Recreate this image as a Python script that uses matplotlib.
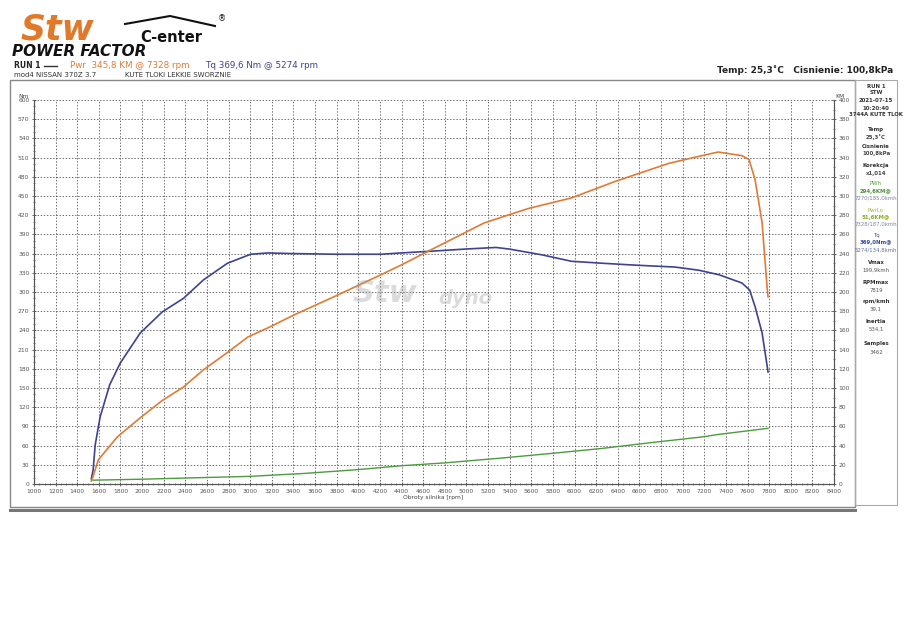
import matplotlib
matplotlib.use("Agg")
import matplotlib.pyplot as plt
from matplotlib.ticker import MultipleLocator
from matplotlib.patches import Rectangle
import numpy as np

# torque [Nm] (left axis)
rpm_tq = [1530, 1547, 1566, 1612, 1700, 1798, 1900, 1983, 2187, 2382, 2568, 2790, 3004, 3161,
          3400, 3800, 4210, 4395, 4700, 4980, 5274, 5400, 5700, 5972, 6250, 6557, 6928, 7150,
          7336, 7549, 7620, 7670, 7735, 7790]
tq = [8, 22, 61, 105, 155, 189, 215, 236, 269, 290, 319, 345, 359, 361,
      360, 359, 359, 361, 364, 367, 369.6, 367, 358, 348, 345, 342, 339, 334,
      327, 314, 303, 277, 236, 175]

# power [KM] (right axis)
rpm_pwr = [1530, 1547, 1594, 1770, 1983, 2187, 2382, 2568, 2790, 2976, 3189, 3403, 3774, 4210,
           4395, 4673, 5165, 5573, 5972, 6371, 6872, 7100, 7328, 7549, 7614, 7670, 7735, 7781, 7790]
pwr = [3, 8, 25, 49, 69, 87, 101, 119, 137, 153, 164, 176, 195, 218,
       228, 244, 272, 287, 298, 315, 334, 340, 345.8, 342, 338, 317, 272, 205, 195]

# power loss [KM] (right axis)
rpm_loss = [1547, 2000, 2500, 3004, 3500, 4000, 4395, 4800, 5322, 5800, 6250, 6700, 7178, 7328, 7790]
loss = [4, 5, 6.5, 8, 11, 15, 19, 22, 27, 32, 37, 43, 49, 51.6, 58]

panel_lines = [
    ("RUN 1", "#333333", "bold"), ("STW", "#333333", "bold"), ("2021-07-15", "#333333", "bold"),
    ("10:20:40", "#333333", "bold"), ("3744A KUTE TLOK", "#333333", "bold"),
    ("Temp", "#333333", "bold"), ("25,3˚C", "#444444", "bold"),
    ("Cisnienie", "#333333", "bold"), ("100,8kPa", "#444444", "bold"),
    ("Korekcja", "#333333", "bold"), ("x1,014", "#444444", "bold"),
    ("PWh", "#5a9a4a", "normal"), ("294,6KM@", "#4f9040", "bold"), ("7270/185,0kmh", "#7a86a8", "normal"),
    ("PwrLo", "#9ab832", "normal"), ("51,6KM@", "#8aab20", "bold"), ("7328/187,0kmh", "#7a86a8", "normal"),
    ("Tq", "#555577", "normal"), ("369,0Nm@", "#3a4aa0", "bold"), ("5274/134,8kmh", "#6070a8", "normal"),
    ("Vmax", "#333333", "bold"), ("199,9kmh", "#555555", "normal"),
    ("RPMmax", "#333333", "bold"), ("7819", "#555555", "normal"),
    ("rpm/kmh", "#333333", "bold"), ("39,1", "#555555", "normal"),
    ("Inertia", "#333333", "bold"), ("534,1", "#555555", "normal"),
    ("Samples", "#333333", "bold"), ("3462", "#555555", "normal"),
]
panel_y = [87, 93, 100, 108, 115, 129, 137, 147, 154, 166, 173, 184, 192, 198,
           211, 218, 224, 236, 243, 250, 263, 270, 283, 290, 302, 309, 322, 329, 344, 352]

W, H = 909, 639
fig = plt.figure(figsize=(W / 100, H / 100), dpi=100)
fig.patch.set_facecolor("white")


def fx(x):
    return x / W


def fy(y):
    return 1 - y / H


# frame around chart and info panel
fig.patches.append(Rectangle((fx(10), fy(507)), fx(845), 427 / H, transform=fig.transFigure,
                             fill=False, ec="#888888", lw=1.0))
fig.patches.append(Rectangle((fx(855), fy(505)), fx(42), 425 / H, transform=fig.transFigure,
                             fill=False, ec="#aaaaaa", lw=0.8))
fig.lines.append(plt.Line2D([fx(10), fx(855)], [fy(510), fy(510)], transform=fig.transFigure,
                            color="#777777", lw=2.2))

ax = fig.add_axes([fx(34), fy(484), (834 - 34) / W, (484 - 100) / H])
ax2 = ax.twinx()

ax.set_xlim(1000, 8400)
ax.set_ylim(0, 600)
ax2.set_ylim(0, 400)

ax.xaxis.set_major_locator(MultipleLocator(200))
ax.xaxis.set_minor_locator(MultipleLocator(50))
ax.yaxis.set_major_locator(MultipleLocator(30))
ax.yaxis.set_minor_locator(MultipleLocator(10))
ax2.yaxis.set_major_locator(MultipleLocator(20))
ax2.yaxis.set_minor_locator(MultipleLocator(10))

ax.grid(True, which="major", color="#333333", linestyle=(0, (2, 2.5)), lw=0.5)
ax.set_axisbelow(True)
for a in (ax, ax2):
    a.spines["top"].set_visible(False)
    for s in ("left", "right", "bottom"):
        a.spines[s].set_color("#555555")
        a.spines[s].set_linewidth(0.8)
    a.tick_params(which="both", direction="inout", colors="#555555", labelsize=4.3,
                  labelcolor="#555555", pad=1.5)
    a.tick_params(which="major", length=3.5, width=0.6)
    a.tick_params(which="minor", length=2, width=0.5)

ax.plot(rpm_tq, tq, color="#3d4291", lw=1.2, zorder=5)
ax2.plot(rpm_pwr, pwr, color="#e07a35", lw=1.2, zorder=5)
ax2.plot(rpm_loss, loss, color="#4d9a40", lw=1.0, zorder=5)

# watermark logo
fig.text(fx(385), fy(293), "Stw", fontsize=22, fontweight="bold", style="italic",
         color="#9a9a9a", alpha=0.35, ha="center", va="center")
fig.text(fx(465), fy(298), "dyno", fontsize=14, fontweight="bold", style="italic",
         color="#9a9a9a", alpha=0.35, ha="center", va="center")

fig.text(fx(24), fy(96), "Nm", fontsize=4.3, color="#444444", ha="center", va="center")
fig.text(fx(840), fy(97), "KM", fontsize=4.3, color="#444444", ha="center", va="center")
fig.text(fx(433), fy(497), "Obroty silnika [rpm]", fontsize=4.3, color="#444444",
         ha="center", va="center")

# logo
fig.text(fx(20), fy(29), "Stw", fontsize=25, fontweight="bold", style="italic",
         color="#e07a2a", ha="left", va="center")
fig.text(fx(140), fy(38), "C-enter", fontsize=10.5, fontweight="bold", color="#111111",
         ha="left", va="center")
fig.text(fx(12), fy(52), "POWER FACTOR", fontsize=11, fontweight="bold", style="italic",
         color="#111111", ha="left", va="center")
fig.lines.append(plt.Line2D([fx(125), fx(170), fx(215)], [fy(24), fy(16), fy(26)],
                            transform=fig.transFigure, color="#111111", lw=1.5))
fig.text(fx(222), fy(19), "®", fontsize=6, color="#111111", ha="center", va="center")

# header
fig.text(fx(14), fy(66), "RUN 1", fontsize=5.5, fontweight="bold", color="#222222",
         ha="left", va="center")
fig.lines.append(plt.Line2D([fx(44), fx(57)], [fy(66), fy(66)], transform=fig.transFigure,
                            color="#333333", lw=1.0))
fig.text(fx(70), fy(66), "Pwr  345,8 KM @ 7328 rpm", fontsize=6.3, color="#e07a35",
         ha="left", va="center")
fig.text(fx(205), fy(66), "Tq 369,6 Nm @ 5274 rpm", fontsize=6.3, color="#3d4291",
         ha="left", va="center")
fig.text(fx(14), fy(75), "mod4 NISSAN 370Z 3.7", fontsize=5, color="#333333",
         ha="left", va="center")
fig.text(fx(125), fy(75), "KUTE TLOKI LEKKIE SWORZNIE", fontsize=5, color="#333333",
         ha="left", va="center")
fig.text(fx(893), fy(70), "Temp: 25,3˚C   Cisnienie: 100,8kPa", fontsize=6.5,
         fontweight="bold", color="#222222", ha="right", va="center")

# info panel
for (txt, col, wt), y in zip(panel_lines, panel_y):
    fig.text(fx(876), fy(y), txt, fontsize=3.9, color=col, fontweight=wt,
             ha="center", va="center")

fig.savefig("out.png", dpi=100, facecolor="white")
